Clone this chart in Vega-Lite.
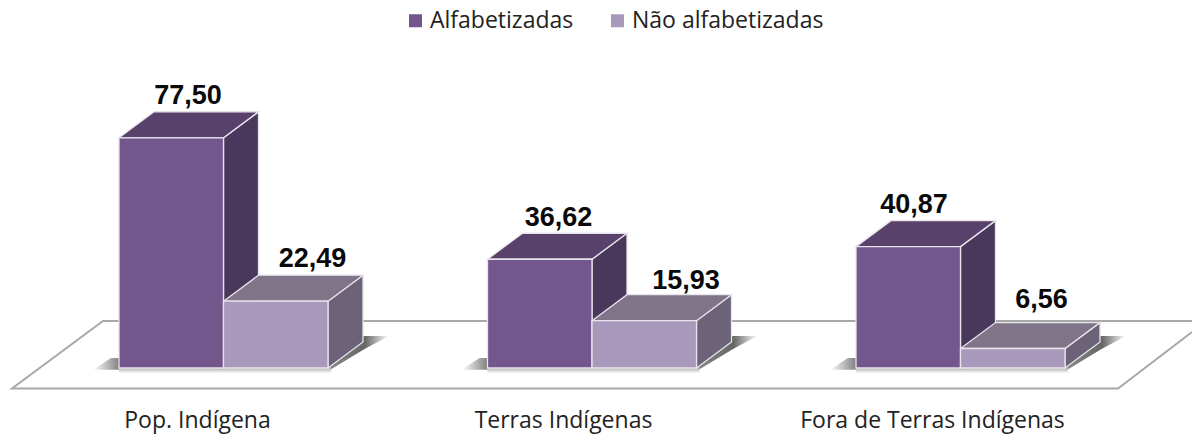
{
"$schema":"https://vega.github.io/schema/vega-lite/v6.json",
"width":1192,"height":395,"padding":{"left":0,"top":0,"right":0,"bottom":41},"autosize":{"type":"none"},
"background":"white",
"config":{"view":{"stroke":null},"axis":{"grid":false}},
"datasets":{
"bars":[
{"categoria":"Pop. Indígena","serie":"Alfabetizadas","valor":77.50},
{"categoria":"Pop. Indígena","serie":"Não alfabetizadas","valor":22.49},
{"categoria":"Terras Indígenas","serie":"Alfabetizadas","valor":36.62},
{"categoria":"Terras Indígenas","serie":"Não alfabetizadas","valor":15.93},
{"categoria":"Fora de Terras Indígenas","serie":"Alfabetizadas","valor":40.87},
{"categoria":"Fora de Terras Indígenas","serie":"Não alfabetizadas","valor":6.56}],
"grupos":[{"categoria":"Pop. Indígena"},{"categoria":"Terras Indígenas"},{"categoria":"Fora de Terras Indígenas"}],
"piso":[{"ordem":1,"px":1192,"py":15.82},{"ordem":2,"px":103,"py":15.82},{"ordem":3,"px":12,"py":-6.9},{"ordem":4,"px":1118,"py":-6.9},{"ordem":5,"px":1192,"py":12.1}]
},
"encoding":{"x":{"type":"quantitative","scale":{"domain":[0,1192],"nice":false,"zero":false},
"axis":{"values":[197,563,932],"labelExpr":"datum.value<300?'Pop. Indígena':datum.value<700?'Terras Indígenas':'Fora de Terras Indígenas'","domain":false,"ticks":false,"grid":false,"title":null,"labelFont":"Open Sans","labelFontSize":23,"labelColor":"#222222","labelPadding":14,"labelOverlap":false,"labelFlush":false,"labelLimit":400}}},
"layer":[
{"data":{"name":"piso"},
"mark":{"type":"line","stroke":"#a8a8a8","strokeWidth":2},
"encoding":{
"x":{"field":"px"},
"y":{"field":"py","type":"quantitative","scale":{"domain":[-9.09,123.9],"nice":false,"zero":false},"axis":null},
"order":{"field":"ordem","type":"quantitative"}}},
{"data":{"name":"grupos"},
"transform":[
{"calculate":"119+368.5*indexof(['Pop. Indígena','Terras Indígenas','Fora de Terras Indígenas'],datum.categoria)","as":"x0"},
{"calculate":"[datum.x0+210,datum.x0+246,datum.x0+270]","as":"xs"},
{"calculate":"[-0.8,6.5,10.8]","as":"lo"},
{"calculate":"[9.5,10.8,10.8]","as":"hi"},
{"flatten":["xs","lo","hi"]}],
"mark":{"type":"area","color":{"gradient":"linear","x1":0,"x2":1,"y1":0,"y2":0,"stops":[{"offset":0,"color":"#888888"},{"offset":0.6,"color":"#666666"},{"offset":1,"color":"#ffffff"}]}},
"encoding":{"x":{"field":"xs"},"y":{"field":"hi","type":"quantitative","axis":null},"y2":{"field":"lo"},"detail":{"field":"categoria"}}},
{"data":{"name":"grupos"},
"transform":[
{"calculate":"119+368.5*indexof(['Pop. Indígena','Terras Indígenas','Fora de Terras Indígenas'],datum.categoria)","as":"x0"},
{"calculate":"[datum.x0-26,datum.x0-8,datum.x0+2]","as":"xs"},
{"calculate":"[-0.6,-0.6,-0.6]","as":"lo"},
{"calculate":"[-0.6,3.4,3.4]","as":"hi"},
{"flatten":["xs","lo","hi"]}],
"mark":{"type":"area","color":{"gradient":"linear","x1":0,"x2":1,"y1":0,"y2":0,"stops":[{"offset":0,"color":"#ffffff"},{"offset":1,"color":"#777777"}]}},
"encoding":{"x":{"field":"xs"},"y":{"field":"hi","type":"quantitative","axis":null},"y2":{"field":"lo"},"detail":{"field":"categoria"}}},
{"data":{"name":"grupos"},
"transform":[
{"calculate":"119+368.5*indexof(['Pop. Indígena','Terras Indígenas','Fora de Terras Indígenas'],datum.categoria)","as":"x0"},
{"calculate":"[datum.x0,datum.x0+212]","as":"xs"},
{"calculate":"[-1.8,-1.8]","as":"lo"},
{"calculate":"[0.5,0.5]","as":"hi"},
{"flatten":["xs","lo","hi"]}],
"mark":{"type":"area","color":{"gradient":"linear","x1":0,"x2":0,"y1":0,"y2":1,"stops":[{"offset":0,"color":"#999999"},{"offset":1,"color":"#ffffff"}]}},
"encoding":{"x":{"field":"xs"},"y":{"field":"hi","type":"quantitative","axis":null},"y2":{"field":"lo"},"detail":{"field":"categoria"}}},
{"data":{"name":"bars"},
"transform":[
{"calculate":"119+368.5*indexof(['Pop. Indígena','Terras Indígenas','Fora de Terras Indígenas'],datum.categoria)+(datum.serie==='Alfabetizadas'?0:104.5)","as":"x0"},
{"calculate":"[datum.x0+104.5,datum.x0+139.5]","as":"xs"},
{"calculate":"[0,8.75]","as":"lo"},
{"calculate":"[datum.valor,datum.valor+8.75]","as":"hi"},
{"flatten":["xs","lo","hi"]}],
"mark":{"type":"area","stroke":"#e8e4ec","strokeWidth":1.3},
"encoding":{"x":{"field":"xs"},"y":{"field":"hi","type":"quantitative","axis":null},"y2":{"field":"lo"},"detail":{"field":"x0"},
"fill":{"condition":{"test":"datum.serie==='Alfabetizadas'","value":"#49375c"},"value":"#6c6379"}}},
{"data":{"name":"bars"},
"transform":[
{"calculate":"119+368.5*indexof(['Pop. Indígena','Terras Indígenas','Fora de Terras Indígenas'],datum.categoria)+(datum.serie==='Alfabetizadas'?0:104.5)","as":"x0"},
{"calculate":"[datum.x0,datum.x0+35,datum.x0+104.5,datum.x0+139.5]","as":"xs"},
{"calculate":"[datum.valor,datum.valor,datum.valor,datum.valor+8.75]","as":"lo"},
{"calculate":"[datum.valor,datum.valor+8.75,datum.valor+8.75,datum.valor+8.75]","as":"hi"},
{"flatten":["xs","lo","hi"]}],
"mark":{"type":"area","stroke":"#e8e4ec","strokeWidth":1.3},
"encoding":{"x":{"field":"xs"},"y":{"field":"hi","type":"quantitative","axis":null},"y2":{"field":"lo"},"detail":{"field":"x0"},
"fill":{"condition":{"test":"datum.serie==='Alfabetizadas'","value":"#58416b"},"value":"#807489"}}},
{"data":{"name":"bars"},
"transform":[
{"calculate":"119+368.5*indexof(['Pop. Indígena','Terras Indígenas','Fora de Terras Indígenas'],datum.categoria)+(datum.serie==='Alfabetizadas'?0:104.5)","as":"x0"},
{"calculate":"datum.x0+104.5","as":"x1"}],
"mark":{"type":"rect","stroke":"#e8e4ec","strokeWidth":1.3},
"encoding":{"x":{"field":"x0"},"x2":{"field":"x1"},"y":{"field":"valor","type":"quantitative","axis":null},"y2":{"datum":0},
"fill":{"field":"serie","type":"nominal","scale":{"domain":["Alfabetizadas","Não alfabetizadas"],"range":["#73578c","#a898bc"]},
"legend":{"title":null,"orient":"none","legendX":404,"legendY":9,"direction":"horizontal","symbolType":"square","symbolSize":169,"symbolStrokeWidth":0,"labelFont":"Open Sans","labelFontSize":23,"labelColor":"#222222","columnPadding":32,"labelOffset":3,"labelLimit":300}}}},
{"data":{"name":"bars"},
"transform":[
{"calculate":"indexof(['Pop. Indígena','Terras Indígenas','Fora de Terras Indígenas'],datum.categoria)","as":"g"},
{"calculate":"datum.serie==='Alfabetizadas'?0:1","as":"s"},
{"calculate":"119+368.5*datum.g+104.5*datum.s+[[69,89],[71,94],[58,81]][datum.g][datum.s]","as":"xt"},
{"calculate":"datum.valor+8.75+[[8,8],[7,6],[8,15]][datum.g][datum.s]/2.97","as":"yt"},
{"calculate":"replace(format(datum.valor,'.2f'),'.',',')","as":"rotulo"}],
"mark":{"type":"text","font":"Liberation Sans","fontWeight":"bold","fontSize":27,"color":"#0a0a0a","baseline":"alphabetic","align":"center"},
"encoding":{"x":{"field":"xt"},"y":{"field":"yt","type":"quantitative","axis":null},"text":{"field":"rotulo"}}}
]
}
